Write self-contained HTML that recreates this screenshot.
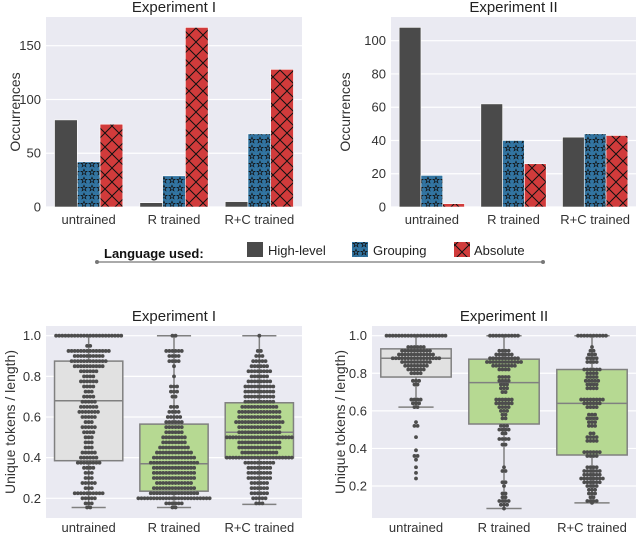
<!DOCTYPE html>
<html><head><meta charset="utf-8"><style>
body{margin:0;background:#fff;}
svg{display:block;font-family:"Liberation Sans",sans-serif;}
</style></head><body>
<svg id="c" width="640" height="533" viewBox="0 0 640 533">
<defs>
<pattern id="stars" width="8" height="8" patternUnits="userSpaceOnUse">
<rect width="8" height="8" fill="#3274a1"/>
<path d="M4 1.2 L4.8 3.3 L7 3.3 L5.2 4.6 L5.9 6.8 L4 5.5 L2.1 6.8 L2.8 4.6 L1 3.3 L3.2 3.3 Z" fill="none" stroke="#111" stroke-width="0.7"/>
</pattern>
<pattern id="cross" width="14" height="14" patternUnits="userSpaceOnUse">
<rect width="14" height="14" fill="#d13b3b"/>
<path d="M0 0 L14 14 M14 0 L0 14" stroke="#111" stroke-width="1"/>
</pattern>
</defs>
<g id="root"></g>
<g>
<line x1="97" y1="262" x2="543" y2="262" stroke="#777" stroke-width="1.2"/>
<circle cx="97" cy="262" r="2" fill="#777"/><circle cx="543" cy="262" r="2" fill="#777"/>
<text x="104" y="258" font-size="13" font-weight="bold" fill="#111">Language used:</text>
<rect x="247" y="242" width="16" height="15" fill="#4a4a4a"/>
<text x="268" y="255" font-size="13" fill="#222">High-level</text>
<rect x="352" y="242" width="16" height="15" fill="url(#stars)"/>
<text x="373" y="255" font-size="13" fill="#222">Grouping</text>
<rect x="454" y="242" width="16" height="15" fill="url(#cross)"/>
<text x="474" y="255" font-size="13" fill="#222">Absolute</text>
</g>
</svg>
<script>
const categories = ["untrained","R trained","R+C trained"];
const seriesNames = ["High-level","Grouping","Absolute"];
const exp1HighLevel = [81,4,5];
const exp1Grouping = [42,29,68];
const exp1Absolute = [77,167,128];
const exp2HighLevel = [108,62,42];
const exp2Grouping = [19,40,44];
const exp2Absolute = [2,26,43];
const exp1BarTicks = [0,50,100,150];
const exp2BarTicks = [0,20,40,60,80,100];
const boxTicks = [0.2,0.4,0.6,0.8,1.0];
const exp2BoxTicks = [0.2,0.4,0.6,0.8,1.0];
// box stats: [whiskerLow, q1, median, q3, whiskerHigh]
const exp1BoxStats = [[0.155,0.385,0.68,0.875,1.0],[0.155,0.235,0.37,0.565,1.0],[0.17,0.40,0.525,0.67,1.0]];
const exp2BoxStats = [[0.62,0.78,0.88,0.93,1.0],[0.08,0.53,0.75,0.875,1.0],[0.11,0.365,0.64,0.82,1.0]];
// swarm bins: values and counts
const e1uVals=[1.0,0.95,0.925,0.9,0.875,0.85,0.825,0.8,0.775,0.75,0.725,0.7,0.675,0.65,0.625,0.6,0.575,0.55,0.525,0.5,0.475,0.45,0.425,0.4,0.375,0.35,0.325,0.3,0.275,0.25,0.225,0.2,0.175,0.155];
const e1uCnt=[22,2,14,10,12,10,6,4,6,4,3,4,5,6,7,5,3,5,4,3,3,3,5,6,8,4,3,3,5,3,10,5,3,2];
const e1rVals=[1.0,0.925,0.9,0.875,0.85,0.8,0.75,0.725,0.7,0.65,0.625,0.6,0.575,0.55,0.525,0.5,0.475,0.45,0.425,0.4,0.375,0.35,0.325,0.3,0.275,0.25,0.225,0.2,0.175,0.155];
const e1rCnt=[2,6,4,4,1,1,3,3,2,3,4,5,6,6,6,8,8,10,12,14,16,14,14,14,12,14,16,24,6,2];
const e1cVals=[1.0,0.925,0.9,0.875,0.85,0.825,0.8,0.775,0.75,0.725,0.7,0.675,0.65,0.625,0.6,0.575,0.55,0.525,0.5,0.475,0.45,0.425,0.4,0.375,0.35,0.325,0.3,0.275,0.25,0.225,0.2,0.175];
const e1cCnt=[1,2,3,5,6,8,6,8,10,10,10,10,12,14,14,16,14,14,22,14,14,12,22,10,8,8,8,6,6,6,5,3];
const e2uVals=[1.0,0.94,0.92,0.9,0.88,0.86,0.84,0.82,0.8,0.76,0.74,0.66,0.64,0.62,0.54,0.52,0.46,0.39,0.36,0.34,0.3,0.27,0.24];
const e2uCnt=[20,6,10,12,16,10,8,6,4,3,2,4,3,2,1,2,1,1,2,1,1,1,1];
const e2rVals=[1.0,0.92,0.9,0.88,0.86,0.84,0.82,0.78,0.76,0.74,0.72,0.7,0.66,0.64,0.62,0.6,0.58,0.56,0.52,0.5,0.48,0.45,0.42,0.3,0.28,0.22,0.2,0.16,0.14,0.12,0.1,0.08];
const e2rCnt=[10,4,6,10,12,8,4,4,4,3,3,2,6,6,4,3,2,2,3,4,2,4,2,1,2,2,1,2,2,4,3,1];
const e2cVals=[1.0,0.94,0.92,0.9,0.88,0.86,0.82,0.8,0.78,0.76,0.74,0.72,0.66,0.64,0.62,0.58,0.56,0.54,0.52,0.48,0.46,0.44,0.38,0.36,0.3,0.28,0.26,0.24,0.22,0.2,0.18,0.16,0.14,0.12,0.11];
const e2cCnt=[10,1,2,3,4,4,6,4,4,5,4,4,8,6,4,3,4,3,3,2,4,4,6,4,4,6,6,8,6,4,3,3,2,4,1];

const NS="http://www.w3.org/2000/svg";
const root=document.getElementById('root');
function mk(tag,attrs,parent){const e=document.createElementNS(NS,tag);for(const k in attrs)e.setAttribute(k,attrs[k]);(parent||root).appendChild(e);return e;}

function panelFrame(p,ticks,fmt,ylabel,title,prefix){
  const g=mk('g',{});
  
  
  const bg=mk('rect',{x:p.x0,y:p.y0,width:p.x1-p.x0,height:p.y1-p.y0,fill:'#eaeaf2'},g);
  
  
  ticks.forEach(t=>{
    const y=p.sy(t);
    mk('line',{x1:p.x0,x2:p.x1,y1:y,y2:y,stroke:'#fff','stroke-width':1.2},g);
    const tx=mk('text',{x:p.x0-5,y:y+4.5,'font-size':13,fill:'#333','text-anchor':'end'},g);
    tx.textContent=fmt(t);
    
    
  });
  const bw=(p.x1-p.x0)/categories.length;
  categories.forEach((c,i)=>{
    const tx=mk('text',{x:p.x0+bw*(i+0.5),y:p.xly,'font-size':13,fill:'#333','text-anchor':'middle'},g);
    tx.textContent=c;
    
    
  });
  const yl=mk('text',{x:0,y:0,'font-size':14,fill:'#333','text-anchor':'middle',transform:`translate(${p.ylx},${(p.y0+p.y1)/2}) rotate(-90)`},g);
  yl.textContent=ylabel;
  
  
  const tt=mk('text',{x:(p.x0+p.x1)/2,y:p.y0-5,'font-size':15,fill:'#222','text-anchor':'middle'},g);
  tt.textContent=title;
  
  
  return g;
}

function barPanel(p,series,ticks,title,prefix){
  const g=panelFrame(p,ticks,t=>String(t),'Occurrences',title,prefix);
  const fills=['#4a4a4a','url(#stars)','url(#cross)'];
  const bw=(p.x1-p.x0)/categories.length, w=bw*0.8/3;
  series.forEach((arr,s)=>{
    arr.forEach((v,i)=>{
      const x=p.x0+bw*i+bw*0.1+w*s;
      const r=mk('rect',{x:x,y:p.sy(v),width:w,height:p.sy(0)-p.sy(v),fill:fills[s],stroke:'#fff','stroke-width':0.6},g);
      
      
    });
  });
}

function boxPanel(p,stats,swarms,ticks,title,prefix){
  const g=panelFrame(p,ticks,t=>t.toFixed(1),'Unique tokens / length)',title,prefix);
  const bw=(p.x1-p.x0)/categories.length, w=bw*0.8;
  const fills=['#e1e1e1','#b6d992','#b6d992'];
  stats.forEach((s,i)=>{
    const cx=p.x0+bw*(i+0.5);
    const wl=mk('line',{x1:cx,x2:cx,y1:p.sy(s[0]),y2:p.sy(s[4]),stroke:'#808080','stroke-width':1.5},g);
    
    
    mk('line',{x1:cx-w/4,x2:cx+w/4,y1:p.sy(s[0]),y2:p.sy(s[0]),stroke:'#808080','stroke-width':1.5},g);
    mk('line',{x1:cx-w/4,x2:cx+w/4,y1:p.sy(s[4]),y2:p.sy(s[4]),stroke:'#808080','stroke-width':1.5},g);
    const b=mk('rect',{x:cx-w/2,y:p.sy(s[3]),width:w,height:p.sy(s[1])-p.sy(s[3]),fill:fills[i],stroke:'#808080','stroke-width':1.5},g);
    
    
    const m=mk('line',{x1:cx-w/2,x2:cx+w/2,y1:p.sy(s[2]),y2:p.sy(s[2]),stroke:'#808080','stroke-width':1.5},g);
    
    
    const sw=swarms[i];
    sw[0].forEach((v,k)=>{
      const n=sw[1][k], sp=3.1;
      for(let j=0;j<n;j++){
        const dx=(j-(n-1)/2)*sp;
        const d=mk('circle',{cx:cx+dx,cy:p.sy(v),r:1.9,fill:'#4d4d4d'},g);
        
        
      }
    });
  });
}

function lin(d0,d1,r0,r1){return v=>r0+(v-d0)*(r1-r0)/(d1-d0);}
barPanel({x0:46,x1:302,y0:17,y1:207,sy:lin(0,150,207,45.7),xly:224,ylx:20},[exp1HighLevel,exp1Grouping,exp1Absolute],exp1BarTicks,'Experiment I','exp1-bar');
barPanel({x0:391,x1:636,y0:17,y1:207,sy:lin(0,100,207,40.7),xly:224,ylx:350},[exp2HighLevel,exp2Grouping,exp2Absolute],exp2BarTicks,'Experiment II','exp2-bar');
boxPanel({x0:46,x1:302,y0:326,y1:518,sy:lin(0.2,1.0,498.3,335.7),xly:532,ylx:15},exp1BoxStats,[[e1uVals,e1uCnt],[e1rVals,e1rCnt],[e1cVals,e1cCnt]],boxTicks,'Experiment I','exp1-box');
boxPanel({x0:372,x1:636,y0:326,y1:518,sy:lin(0.2,1.0,486,335.7),xly:532,ylx:345},exp2BoxStats,[[e2uVals,e2uCnt],[e2rVals,e2rCnt],[e2cVals,e2cCnt]],exp2BoxTicks,'Experiment II','exp2-box');
</script>
</body></html>
